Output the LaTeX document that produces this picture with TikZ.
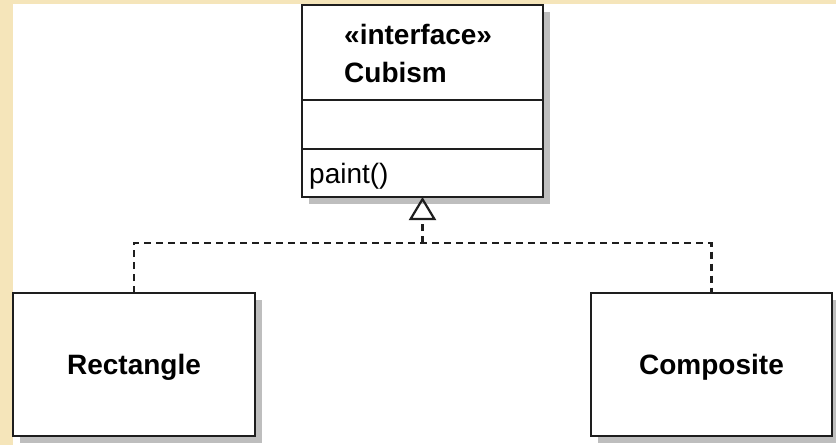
\documentclass[tikz,border=0pt]{standalone}
\usepackage{fontspec}
\setmainfont{Liberation Sans}
\usetikzlibrary{positioning,shadows,arrows.meta}

\definecolor{parchment}{RGB}{245,229,186}
\definecolor{umlshadow}{RGB}{190,190,190}
\definecolor{umlline}{RGB}{30,30,30}

\tikzset{
  umlclass/.style={draw=umlline, line width=2.4pt, fill=white, inner sep=0pt,
    outer sep=0pt, text depth=0pt, font=\fontsize{28}{34}\selectfont\bfseries,
    drop shadow={shadow xshift=7pt, shadow yshift=-7pt, fill=umlshadow, opacity=1}},
  compartment/.style={draw=umlline, line width=2.4pt, inner sep=0pt,
    outer sep=0pt, minimum width=241pt},
  umltext/.style={inner sep=0pt, font=\fontsize{28}{34}\selectfont},
  realizes/.style={draw=umlline, line width=2.2pt, dash pattern=on 7pt off 5pt},
}

\begin{document}
\begin{tikzpicture}[x=1pt, y=-1pt]
  \useasboundingbox (0,0) rectangle (836,445);
  \fill[parchment] (0,0) rectangle (836,445);
  \fill[white] (13,4) rectangle (836,445);

  % the interface and its three compartments
  \node[umlclass, minimum width=241pt, minimum height=192pt, anchor=north west]
    (cubism) at (302,5) {};
  \node[compartment, minimum height=49pt, below=95pt of cubism.north]
    (cubismattrs) {};
  \node[compartment, minimum height=48pt, below=0pt of cubismattrs]
    (cubismops) {};
  \node[umltext, font=\fontsize{28}{34}\selectfont\bfseries, anchor=base west]
    (stereo) at (344,44) {«interface»};
  \node[umltext, font=\fontsize{28}{34}\selectfont\bfseries,
    below=38pt of stereo.base west, anchor=base west] (cubismname) {Cubism};
  \node[umltext, anchor=base west] (paint)
    at ([xshift=7pt, yshift=-10pt]cubismops.west) {paint()};

  % implementing classes
  \node[umlclass, minimum width=242pt, minimum height=143pt, anchor=north west]
    (rectangle) at (13,293) {Rectangle};
  \node[umlclass, minimum width=241pt, minimum height=143pt, anchor=north west]
    (composite) at (591,293) {Composite};

  % realization
  \coordinate[below=46pt of cubism.south] (bus);
  \draw[realizes] (rectangle.north) |- (bus) -| (composite.north);
  \draw[realizes, -{Triangle[open, length=23pt, width=27pt]}] (bus) -- (cubism.south);
\end{tikzpicture}
\end{document}
